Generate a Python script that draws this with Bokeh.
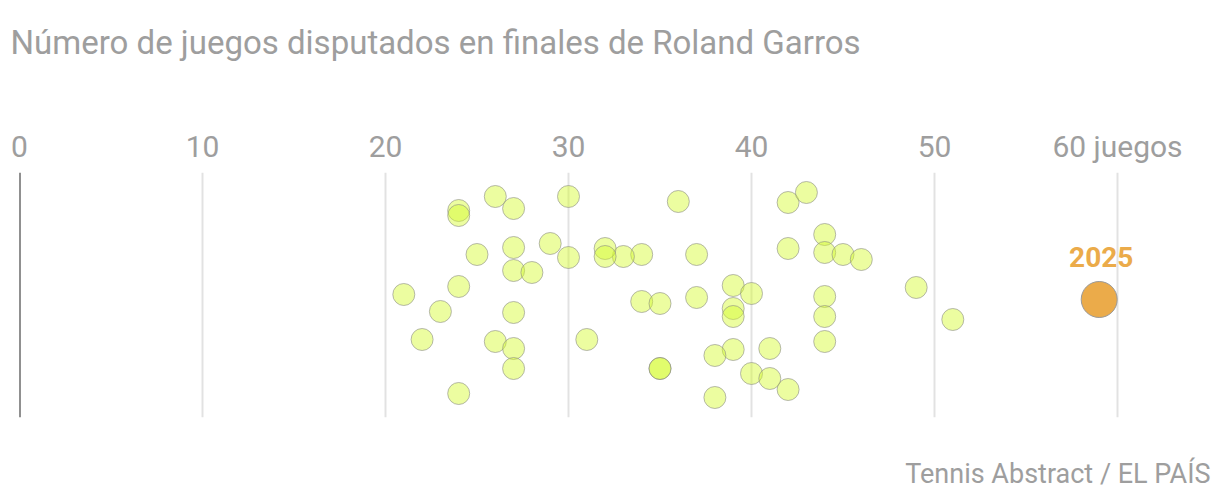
from bokeh.plotting import figure
from bokeh.models import Range1d, FixedTicker, Span, ColumnDataSource, Title
from bokeh.embed import file_html
from bokeh.resources import INLINE

# Games played in each Roland Garros final (historical), with vertical jitter
games = [24, 24, 24, 24, 26, 26, 27, 27, 27, 27, 27, 27, 30, 30, 36, 42, 42, 42,
         43, 44, 44, 44, 44, 44, 45, 46, 37, 37, 34, 34, 33, 32, 32, 29, 25, 28,
         21, 23, 22, 31, 35, 35, 35, 39, 39, 39, 39, 40, 40, 38, 38, 41, 41, 49, 51]
jitter = [207, 202, 131, 24, 221, 76, 209, 170, 147, 105, 69, 49, 221, 160, 216, 215, 169, 28,
          225, 183, 165, 121, 101, 76, 163, 158, 163, 120, 163, 116, 161, 169, 161, 174, 163, 145,
          123, 106, 78, 78, 114, 49, 49, 132, 109, 101, 68, 124, 44, 62, 20, 69, 39, 130, 98]

highlight_games = [59]
highlight_jitter = [118]
highlight_label = ["2025"]

tick_values = [0, 10, 20, 30, 40, 50, 60]
tick_labels = {60: "60 juegos"}

title_text = "Número de juegos disputados en finales de Roland Garros"
source_text = "Tennis Abstract / EL PAÍS"

GRAY = "#9e9e9e"
FONT = "Roboto"

p = figure(width=1212, height=494, output_backend="svg", toolbar_location=None,
           x_axis_location="above", min_border_left=19, min_border_right=0,
           min_border_top=172, min_border_bottom=77)
p.x_range = Range1d(0, 1193 / 18.3)
p.y_range = Range1d(0, 245)
p.outline_line_color = None
p.background_fill_color = "white"
p.border_fill_color = "white"

p.title.text = title_text
p.title.text_font = FONT
p.title.text_font_size = "33px"
p.title.text_font_style = "normal"
p.title.text_color = GRAY
p.title.align = "left"
p.title.offset = -9
p.title.standoff = 0

# empty spacer between title and axis labels
p.add_layout(Title(text=" ", text_font_size="1px", standoff=61), "above")

# spacer below the plot area, then the source line
p.add_layout(Title(text=" ", text_font_size="1px", standoff=35), "below")
p.add_layout(Title(text=source_text, text_font=FONT, text_font_size="27px",
                   text_font_style="normal", text_color=GRAY, align="right",
                   offset=2, standoff=0), "below")

p.yaxis.visible = False
p.ygrid.visible = False

xa = p.xaxis[0]
xa.ticker = FixedTicker(ticks=tick_values)
xa.major_label_overrides = tick_labels
xa.axis_line_color = None
xa.major_tick_line_color = None
xa.minor_tick_line_color = None
xa.major_label_text_font = FONT
xa.major_label_text_font_size = "30px"
xa.major_label_text_color = GRAY
xa.major_label_standoff = 3

p.xgrid.ticker = FixedTicker(ticks=tick_values[1:])
p.xgrid.grid_line_color = "#e2e2e2"
p.xgrid.grid_line_width = 2

p.add_layout(Span(location=0, dimension="height", line_color="#222222", line_width=2))

src = ColumnDataSource(dict(x=games, y=jitter))
p.scatter("x", "y", source=src, size=22, fill_color="#d4fa2c", fill_alpha=0.45,
          line_color="#8a8a8a", line_alpha=0.6, line_width=1)

hsrc = ColumnDataSource(dict(x=highlight_games, y=highlight_jitter, t=highlight_label))
p.scatter("x", "y", source=hsrc, size=36, fill_color="#ebab4a", fill_alpha=1,
          line_color="#9a9a9a", line_width=1)
p.text("x", "y", text="t", source=hsrc, x_offset=2, y_offset=-33,
       text_align="center", text_baseline="bottom", text_font_style="bold",
       text_font_size="28px", text_color="#ebab4a", text_font={"value": FONT})

open("out.html", "w").write(file_html(p, INLINE))
